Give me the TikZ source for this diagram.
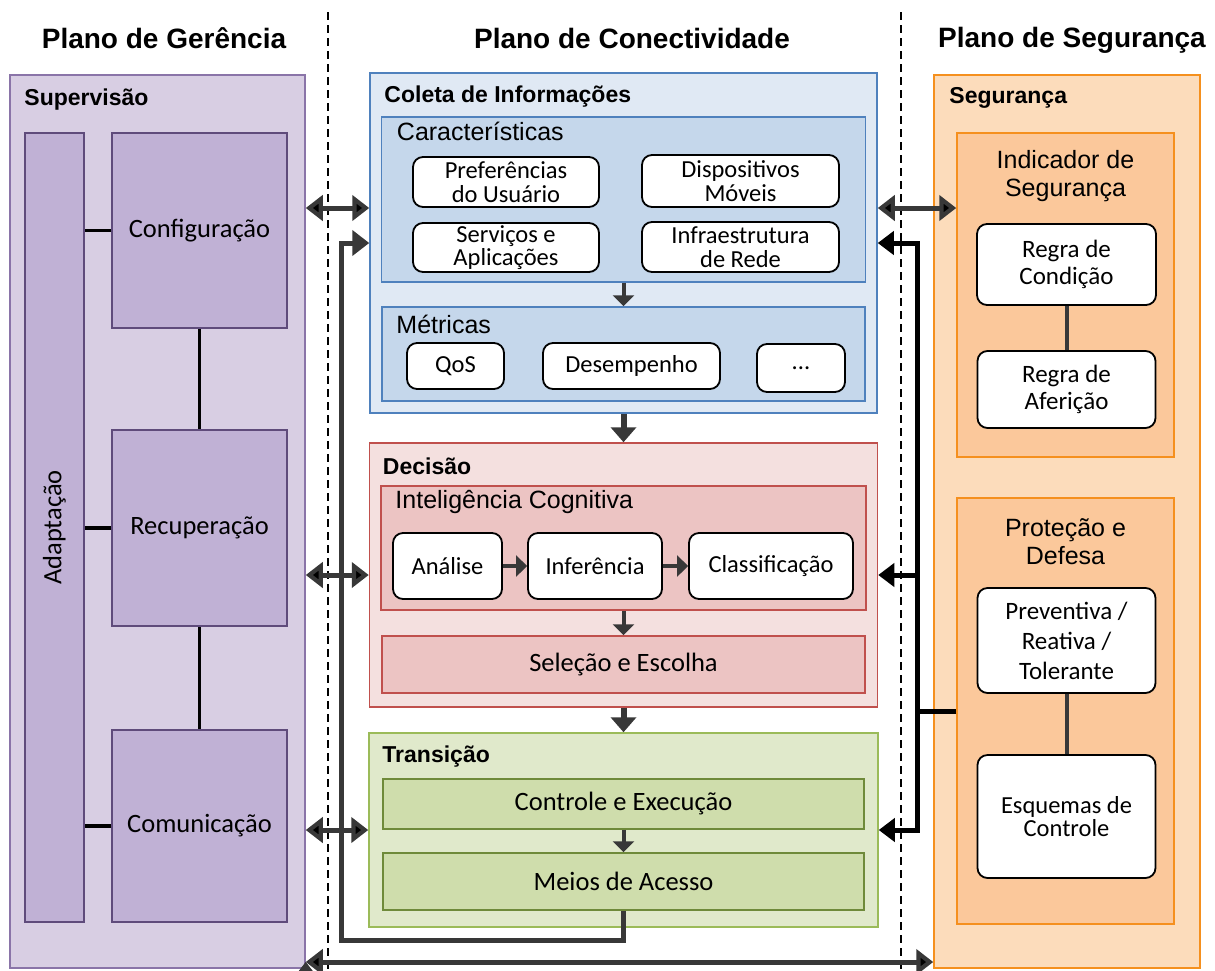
\documentclass[tikz,border=0pt]{standalone}
\usepackage{fontspec}
\setmainfont{Liberation Sans}
\newfontfamily\calibri{Carlito}
\usetikzlibrary{arrows.meta, positioning, calc}

\definecolor{purpleout}{HTML}{D8CEE3}
\definecolor{purplein}{HTML}{C0B1D5}
\definecolor{purpleline}{HTML}{8A74A8}
\definecolor{purpledark}{HTML}{5F4B7B}
\definecolor{blueout}{HTML}{E0E9F4}
\definecolor{bluein}{HTML}{C5D7EB}
\definecolor{blueline}{HTML}{4F81BD}
\definecolor{redout}{HTML}{F4E0DF}
\definecolor{redin}{HTML}{ECC4C3}
\definecolor{redline}{HTML}{C0504D}
\definecolor{greenout}{HTML}{E0E9CB}
\definecolor{greenin}{HTML}{CFDDAC}
\definecolor{greenline}{HTML}{9BBB59}
\definecolor{greendark}{HTML}{6F8A3A}
\definecolor{orangeout}{HTML}{FCDCBB}
\definecolor{orangein}{HTML}{FBC89B}
\definecolor{orangeline}{HTML}{F5901E}
\definecolor{arrowgray}{HTML}{383838}

\begin{document}
\begin{tikzpicture}[x=1pt, y=-1pt,
    box/.style 2 args={rectangle, inner sep=0, minimum width=#1, minimum height=#2},
    pout/.style={draw=purpleline, fill=purpleout, line width=1.5},
    pin/.style={draw=purpledark, fill=purplein, line width=1.5, font=\calibri\fontsize{26.5}{30}\selectfont},
    bout/.style={draw=blueline, fill=blueout, line width=1.5},
    bin/.style={draw=blueline, fill=bluein, line width=1.5},
    rout/.style={draw=redline, fill=redout, line width=1.5},
    rin/.style={draw=redline, fill=redin, line width=1.5, font=\calibri\fontsize{26.5}{30}\selectfont},
    gout/.style={draw=greenline, fill=greenout, line width=1.5},
    gin/.style={draw=greendark, fill=greenin, line width=1.5, font=\calibri\fontsize{26.5}{30}\selectfont},
    oout/.style={draw=orangeline, fill=orangeout, line width=1.5},
    oin/.style={draw=orangeline, fill=orangein, line width=1.5},
    wbox/.style={draw=black, fill=white, rounded corners=10, line width=1.8, align=center,
                 font=\calibri\fontsize{24.5}{23.5}\selectfont},
    head/.style={anchor=west, inner sep=0, font=\bfseries\fontsize{23}{26}\selectfont},
    sub/.style={anchor=west, inner sep=0, font=\fontsize{25}{28}\selectfont},
    subc/.style={align=center, inner sep=0, font=\fontsize{25}{28}\selectfont},
    plano/.style={font=\bfseries\fontsize{28}{32}\selectfont},
    sep/.style={dash pattern=on 8pt off 5pt, line width=1.2},
    dbl/.style={{Triangle[length=17pt,width=25pt]}-{Triangle[length=17pt,width=25pt]}, line width=5, draw=arrowgray},
    arr/.style={-{Triangle[length=17pt,width=25pt]}, line width=5, draw=arrowgray},
    mid/.style={-{Triangle[length=15pt,width=25pt]}, line width=6, draw=arrowgray},
    small/.style={-{Triangle[length=11pt,width=21pt]}, line width=4, draw=arrowgray},
    busarr/.style={-{Triangle[length=16pt,width=23pt]}, line width=5, draw=black},
    busln/.style={line width=5, draw=black},
    link/.style={line width=3.5, draw=black},
    rlink/.style={line width=4, draw=arrowgray}]
  \useasboundingbox (0,0) rectangle (1215,970);

  % planos
  \node[plano] (tger) at (164,38) {Plano de Gerência};
  \node[plano] (tcon) at (632,38) {Plano de Conectividade};
  \node[plano] (tseg) at (1072,40) {Plano de Segurança};
  \draw[sep] (328,12) -- (328,970);
  \draw[sep] (901,12) -- (901,970);

  % plano de gerencia
  \node[pout, box={295}{893}] (superv) at (157.5,521.5) {};
  \node[head] (supervl) at ($(superv.north west)+(15,25)$) {Supervisão};
  \node[pin, box={789}{59}, rotate=90] (adapt) at (54.5,527.5) {Adaptação};
  \node[pin, box={175}{195}] (config) at (199.5,230.5) {Configuração};
  \node[pin, box={175}{196}] (recup) at (199.5,528) {Recuperação};
  \node[pin, box={175}{192}] (comun) at (199.5,826) {Comunicação};

  % plano de conectividade
  \node[bout, box={507}{340}] (coleta) at (623.5,243) {};
  \node[head] (coletal) at ($(coleta.north west)+(15,24)$) {Coleta de Informações};
  \node[bin, box={484}{165}] (caract) at (623.5,199.5) {};
  \node[sub] (caractl) at ($(caract.north west)+(16,15)$) {Características};
  \node[wbox, box={186}{50}] (pref) at (506,182) {Preferências\\do Usuário};
  \node[wbox, box={197}{52}] (disp) at (740.5,181) {Dispositivos\\Móveis};
  \node[wbox, box={186}{49}] (serv) at (506,247.5) {Serviços e\\Aplicações};
  \node[wbox, box={197}{50}] (infra) at (740.5,247) {Infraestrutura\\de Rede};
  \node[bin, box={483}{94}] (metr) at (623.5,354) {};
  \node[sub] (metrl) at ($(metr.north west)+(15,18)$) {Métricas};
  \node[wbox, box={97}{46}] (qos) at (455.5,366) {QoS};
  \node[wbox, box={177}{46}] (desemp) at (631.5,366) {Desempenho};
  \node[wbox, box={88}{48}] (dots) at (801,368) {...};

  \node[rout, box={508}{264}] (decisao) at (623.5,575) {};
  \node[head] (decisaol) at ($(decisao.north west)+(14,24)$) {Decisão};
  \node[rin, box={485}{124}] (intel) at (623.5,548) {};
  \node[sub] (intell) at ($(intel.north west)+(15,17)$) {Inteligência Cognitiva};
  \node[wbox, box={109}{66}] (analise) at (447.5,566) {Análise};
  \node[wbox, box={134}{66}] (infer) at (595,566) {Inferência};
  \node[wbox, box={164}{66}] (classif) at (771,566) {Classificação};
  \node[rin, box={483}{57}] (selecao) at (623.5,664.5) {Seleção e Escolha};

  \node[gout, box={509}{194}] (trans) at (623.5,830) {};
  \node[head] (transl) at ($(trans.north west)+(14,24)$) {Transição};
  \node[gin, box={481}{50}] (contr) at (623.5,804) {Controle e Execução};
  \node[gin, box={481}{57}] (meios) at (623.5,881.5) {Meios de Acesso};

  % plano de seguranca
  \node[oout, box={266}{893}] (segur) at (1067,521.5) {};
  \node[head] (segurl) at ($(segur.north west)+(16,24)$) {Segurança};
  \node[oin, box={217}{324}] (indic) at (1065.5,295) {};
  \node[subc] (indicl) at ($(indic.north)+(0,44)$) {Indicador de\\Segurança};
  \node[wbox, box={179}{81}, font=\calibri\fontsize{25}{27}\selectfont] (regcond) at (1066.5,264.5) {Regra de\\Condição};
  \node[wbox, box={178}{77}, font=\calibri\fontsize{25}{27}\selectfont] (regafer) at (1066.5,389.5) {Regra de\\Aferição};
  \node[oin, box={217}{426}] (protec) at (1065.5,711) {};
  \node[subc] (protecl) at ($(protec.north)+(0,44)$) {Proteção e\\Defesa};
  \node[wbox, box={178}{105}, font=\calibri\fontsize{25}{30}\selectfont] (prev) at (1066.5,640.5) {Preventiva /\\Reativa /\\Tolerante};
  \node[wbox, box={178}{123}] (esquem) at (1066.5,816.5) {Esquemas de\\Controle};

  % ligacoes
  \coordinate (rowA) at (0,208);
  \coordinate (rowZ) at (0,962);
  \coordinate (loop) at (341,940);
  \coordinate (bus) at (917,0);

  \path[link]
      (config.west) edge (adapt.south |- config.west)
      (recup.west) edge (adapt.south |- recup.west)
      (comun.west) edge (adapt.south |- comun.west)
      (config.south) edge (recup.north)
      (recup.south) edge (comun.north);
  \path[rlink]
      (regcond.south) edge (regafer.north)
      (prev.south) edge (esquem.north);
  \draw[small] (caract.south) -- (metr.north);
  \draw[small] (intel.south) -- (selecao.north);
  \draw[small] (contr.south) -- (meios.north);
  \draw[small] (analise) -- (infer);
  \draw[small] (infer) -- (classif);
  \draw[mid] (coleta.south) -- (decisao.north);
  \draw[mid] (decisao.south) -- (trans.north);
  \path[dbl]
      (superv.east |- rowA) edge (coleta.west |- rowA)
      (superv.east |- decisao.west) edge (decisao.west)
      (superv.east |- trans.west) edge (trans.west)
      (coleta.east |- rowA) edge (indic.west |- rowA)
      (superv.east |- rowZ) edge (segur.west |- rowZ);
  \draw[arr] (meios.south) |- (loop) |- (coleta.west);
  \draw[busarr] (bus |- decisao.east) |- (coleta.east);
  \draw[busarr] (bus |- decisao.east) |- (trans.east);
  \draw[busarr] (bus |- decisao.east) -- (decisao.east);
  \draw[busln] (protec.west) -- (bus |- protec.west);
\end{tikzpicture}
\end{document}
